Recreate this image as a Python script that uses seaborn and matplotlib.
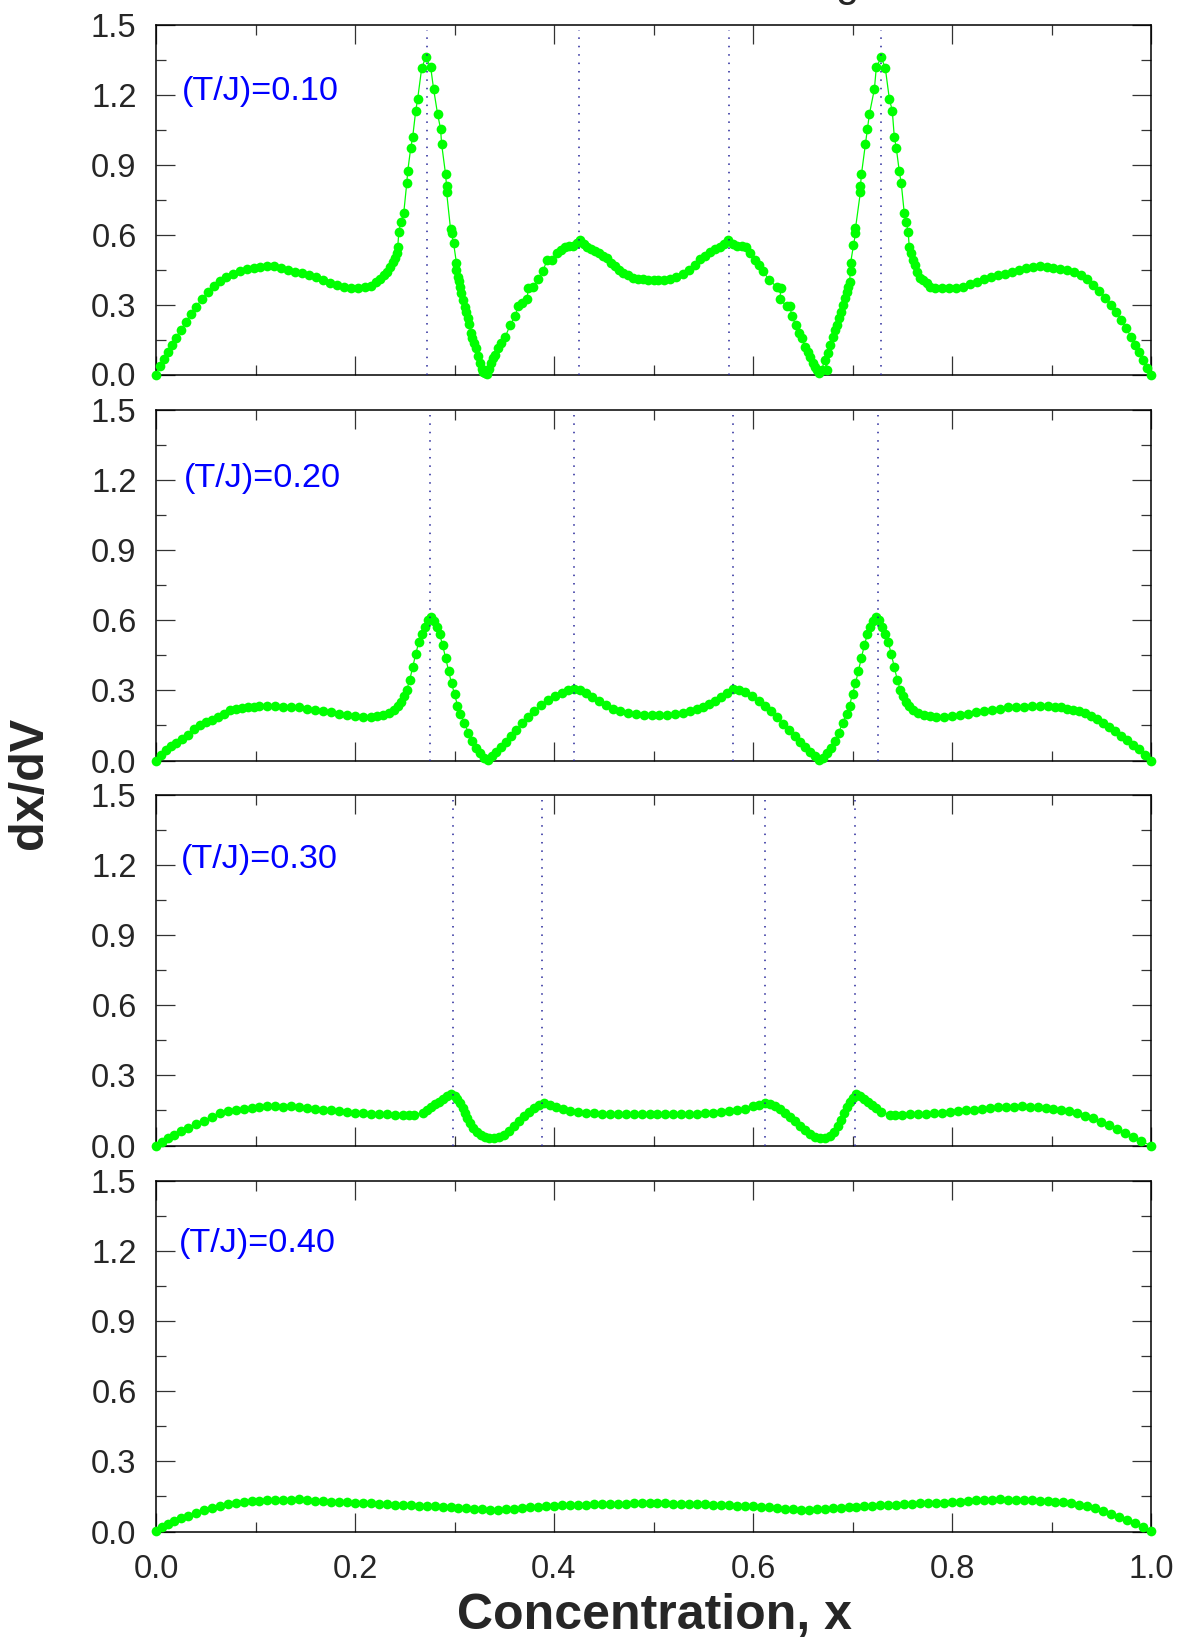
import matplotlib
matplotlib.use("Agg")
import matplotlib.pyplot as plt
from matplotlib.ticker import MultipleLocator, FormatStrFormatter
import seaborn as sns
import pandas as pd

# ---------------- data ----------------
panel_labels = ["(T/J)=0.10", "(T/J)=0.20", "(T/J)=0.30", "(T/J)=0.40"]

x1 = [0.000, 0.004, 0.008, 0.012, 0.016, 0.020, 0.025, 0.030, 0.035, 0.040, 0.046, 0.052, 0.058, 0.064,
      0.070, 0.077, 0.084, 0.091, 0.098, 0.105, 0.112, 0.119, 0.126, 0.133, 0.140, 0.147, 0.154, 0.161,
      0.168, 0.175, 0.182, 0.189, 0.196, 0.203, 0.210, 0.216, 0.221, 0.225, 0.229, 0.232, 0.235, 0.238,
      0.240, 0.242, 0.243, 0.244, 0.246, 0.249, 0.252, 0.253, 0.256, 0.258, 0.261, 0.263, 0.267, 0.271,
      0.276, 0.279, 0.283, 0.286, 0.287, 0.291, 0.292, 0.292, 0.296, 0.297, 0.299, 0.302, 0.302, 0.304,
      0.305, 0.306, 0.307, 0.309, 0.311, 0.312, 0.314, 0.315, 0.317, 0.318, 0.320, 0.322, 0.324, 0.326,
      0.328, 0.329, 0.331, 0.333, 0.335, 0.337, 0.339, 0.341, 0.344, 0.347, 0.351, 0.356, 0.361, 0.364,
      0.368, 0.373, 0.374, 0.379, 0.384, 0.389, 0.393, 0.398, 0.403, 0.407, 0.411, 0.415, 0.419, 0.423,
      0.426, 0.430, 0.433, 0.437, 0.441, 0.445, 0.449, 0.453, 0.457, 0.461, 0.465, 0.469, 0.474, 0.479,
      0.484, 0.489, 0.494, 0.500, 0.505, 0.511, 0.517, 0.523, 0.530, 0.536, 0.542, 0.547, 0.552, 0.557,
      0.562, 0.567, 0.571, 0.575, 0.580, 0.584, 0.589, 0.593, 0.597, 0.602, 0.606, 0.610, 0.616, 0.624,
      0.628, 0.627, 0.634, 0.637, 0.639, 0.643, 0.646, 0.649, 0.652, 0.655, 0.657, 0.660, 0.662, 0.664,
      0.666, 0.669, 0.672, 0.674, 0.675, 0.677, 0.680, 0.682, 0.684, 0.686, 0.688, 0.690, 0.692, 0.694,
      0.695, 0.697, 0.698, 0.698, 0.701, 0.703, 0.703, 0.708, 0.708, 0.709, 0.713, 0.715, 0.717, 0.722,
      0.724, 0.729, 0.733, 0.737, 0.740, 0.742, 0.744, 0.747, 0.749, 0.752, 0.754, 0.756, 0.757, 0.759,
      0.761, 0.763, 0.765, 0.768, 0.771, 0.775, 0.778, 0.783, 0.790, 0.797, 0.804, 0.811, 0.818, 0.825,
      0.832, 0.839, 0.846, 0.853, 0.860, 0.867, 0.874, 0.881, 0.888, 0.895, 0.902, 0.909, 0.916, 0.923,
      0.930, 0.936, 0.942, 0.948, 0.954, 0.960, 0.965, 0.970, 0.975, 0.980, 0.984, 0.988, 0.992, 0.996,
      1.000]
y1 = [0.000, 0.035, 0.068, 0.098, 0.128, 0.158, 0.192, 0.225, 0.258, 0.290, 0.322, 0.352, 0.378, 0.400,
      0.418, 0.433, 0.445, 0.452, 0.458, 0.463, 0.465, 0.464, 0.458, 0.450, 0.441, 0.436, 0.428, 0.420,
      0.405, 0.393, 0.382, 0.374, 0.372, 0.373, 0.374, 0.380, 0.395, 0.410, 0.425, 0.440, 0.460, 0.482,
      0.500, 0.522, 0.548, 0.611, 0.653, 0.694, 0.820, 0.873, 0.972, 1.020, 1.131, 1.184, 1.314, 1.361,
      1.321, 1.225, 1.118, 1.054, 0.991, 0.860, 0.810, 0.785, 0.625, 0.606, 0.566, 0.477, 0.448, 0.420,
      0.403, 0.375, 0.348, 0.320, 0.291, 0.268, 0.241, 0.215, 0.177, 0.155, 0.135, 0.112, 0.080, 0.048,
      0.025, 0.012, 0.005, 0.002, 0.025, 0.048, 0.070, 0.085, 0.112, 0.135, 0.162, 0.212, 0.251, 0.294,
      0.305, 0.322, 0.370, 0.375, 0.408, 0.446, 0.491, 0.491, 0.520, 0.535, 0.548, 0.553, 0.553, 0.565,
      0.577, 0.560, 0.548, 0.540, 0.530, 0.522, 0.508, 0.499, 0.480, 0.465, 0.450, 0.437, 0.425, 0.416,
      0.410, 0.408, 0.406, 0.405, 0.405, 0.407, 0.412, 0.420, 0.432, 0.448, 0.470, 0.495, 0.510, 0.527,
      0.538, 0.548, 0.562, 0.577, 0.560, 0.553, 0.551, 0.548, 0.520, 0.491, 0.470, 0.446, 0.405, 0.377,
      0.370, 0.322, 0.294, 0.294, 0.251, 0.212, 0.177, 0.155, 0.120, 0.095, 0.077, 0.050, 0.032, 0.019,
      0.005, 0.019, 0.062, 0.019, 0.091, 0.127, 0.162, 0.191, 0.212, 0.241, 0.270, 0.298, 0.327, 0.356,
      0.377, 0.398, 0.446, 0.477, 0.556, 0.606, 0.627, 0.785, 0.810, 0.860, 0.991, 1.054, 1.118, 1.225,
      1.321, 1.361, 1.314, 1.184, 1.131, 1.020, 0.972, 0.873, 0.820, 0.694, 0.653, 0.611, 0.548, 0.520,
      0.491, 0.470, 0.441, 0.413, 0.405, 0.391, 0.377, 0.370, 0.372, 0.373, 0.373, 0.376, 0.388, 0.397,
      0.410, 0.418, 0.426, 0.432, 0.442, 0.450, 0.458, 0.463, 0.465, 0.463, 0.458, 0.453, 0.447, 0.438,
      0.425, 0.410, 0.385, 0.360, 0.330, 0.300, 0.268, 0.235, 0.200, 0.160, 0.125, 0.095, 0.062, 0.030,
      0.000]

x2 = [0.000, 0.005, 0.010, 0.015, 0.020, 0.026, 0.032, 0.038, 0.044, 0.050, 0.056, 0.062, 0.068, 0.074,
      0.080, 0.086, 0.092, 0.098, 0.104, 0.112, 0.120, 0.128, 0.136, 0.144, 0.152, 0.160, 0.168, 0.176,
      0.184, 0.192, 0.200, 0.208, 0.216, 0.222, 0.228, 0.234, 0.239, 0.243, 0.246, 0.249, 0.252, 0.255,
      0.258, 0.261, 0.264, 0.267, 0.270, 0.273, 0.276, 0.279, 0.282, 0.285, 0.288, 0.291, 0.294, 0.297,
      0.300, 0.303, 0.306, 0.310, 0.314, 0.318, 0.322, 0.326, 0.330, 0.334, 0.338, 0.342, 0.347, 0.352,
      0.357, 0.362, 0.368, 0.374, 0.380, 0.387, 0.394, 0.401, 0.408, 0.414, 0.420, 0.426, 0.432, 0.438,
      0.445, 0.452, 0.459, 0.466, 0.474, 0.482, 0.490, 0.498, 0.506, 0.514, 0.522, 0.530, 0.537, 0.544,
      0.550, 0.556, 0.562, 0.568, 0.574, 0.580, 0.586, 0.592, 0.599, 0.606, 0.612, 0.618, 0.624, 0.630,
      0.636, 0.642, 0.647, 0.652, 0.657, 0.662, 0.666, 0.670, 0.674, 0.678, 0.682, 0.686, 0.690, 0.694,
      0.697, 0.700, 0.703, 0.706, 0.709, 0.712, 0.715, 0.718, 0.721, 0.724, 0.727, 0.730, 0.733, 0.736,
      0.739, 0.742, 0.745, 0.748, 0.751, 0.754, 0.757, 0.761, 0.766, 0.772, 0.778, 0.784, 0.792, 0.800,
      0.808, 0.816, 0.824, 0.832, 0.840, 0.848, 0.856, 0.864, 0.872, 0.880, 0.888, 0.896, 0.904, 0.910,
      0.916, 0.922, 0.928, 0.934, 0.940, 0.946, 0.952, 0.958, 0.964, 0.970, 0.976, 0.982, 0.988, 0.994,
      1.000]
y2 = [0.000, 0.025, 0.045, 0.060, 0.073, 0.090, 0.108, 0.135, 0.150, 0.163, 0.175, 0.188, 0.200, 0.215,
      0.222, 0.225, 0.227, 0.230, 0.232, 0.233, 0.233, 0.231, 0.229, 0.228, 0.222, 0.217, 0.212, 0.206,
      0.200, 0.195, 0.190, 0.188, 0.186, 0.189, 0.195, 0.205, 0.216, 0.233, 0.252, 0.278, 0.302, 0.345,
      0.400, 0.455, 0.505, 0.540, 0.570, 0.600, 0.612, 0.596, 0.572, 0.540, 0.495, 0.440, 0.385, 0.330,
      0.285, 0.235, 0.200, 0.160, 0.118, 0.082, 0.052, 0.030, 0.012, 0.002, 0.020, 0.035, 0.058, 0.080,
      0.103, 0.130, 0.160, 0.188, 0.212, 0.238, 0.258, 0.275, 0.290, 0.300, 0.308, 0.302, 0.290, 0.272,
      0.254, 0.238, 0.222, 0.210, 0.203, 0.198, 0.196, 0.195, 0.195, 0.196, 0.198, 0.202, 0.210, 0.220,
      0.230, 0.242, 0.255, 0.272, 0.290, 0.308, 0.302, 0.292, 0.275, 0.255, 0.235, 0.210, 0.185, 0.158,
      0.130, 0.103, 0.080, 0.058, 0.038, 0.020, 0.002, 0.012, 0.030, 0.052, 0.082, 0.118, 0.160, 0.200,
      0.235, 0.285, 0.330, 0.385, 0.440, 0.495, 0.540, 0.572, 0.596, 0.612, 0.600, 0.570, 0.540, 0.505,
      0.455, 0.400, 0.345, 0.302, 0.278, 0.252, 0.233, 0.216, 0.205, 0.195, 0.189, 0.186, 0.188, 0.190,
      0.195, 0.200, 0.206, 0.212, 0.217, 0.222, 0.228, 0.229, 0.231, 0.233, 0.233, 0.232, 0.230, 0.228,
      0.222, 0.218, 0.212, 0.203, 0.190, 0.177, 0.160, 0.143, 0.125, 0.106, 0.088, 0.068, 0.048, 0.025,
      0.000]

x3 = [0.000, 0.006, 0.012, 0.018, 0.025, 0.032, 0.040, 0.048, 0.056, 0.064, 0.072, 0.080, 0.088, 0.096,
      0.104, 0.112, 0.120, 0.128, 0.136, 0.144, 0.152, 0.160, 0.168, 0.176, 0.184, 0.192, 0.200, 0.208,
      0.216, 0.224, 0.232, 0.240, 0.248, 0.254, 0.259, 0.268, 0.272, 0.276, 0.280, 0.284, 0.288, 0.292,
      0.296, 0.300, 0.303, 0.306, 0.309, 0.311, 0.313, 0.316, 0.319, 0.323, 0.327, 0.331, 0.335, 0.340,
      0.345, 0.350, 0.355, 0.360, 0.365, 0.370, 0.375, 0.380, 0.385, 0.390, 0.396, 0.402, 0.409, 0.416,
      0.424, 0.432, 0.440, 0.448, 0.456, 0.464, 0.472, 0.480, 0.488, 0.496, 0.504, 0.512, 0.520, 0.528,
      0.536, 0.544, 0.552, 0.560, 0.568, 0.576, 0.584, 0.592, 0.600, 0.606, 0.612, 0.617, 0.622, 0.627,
      0.632, 0.637, 0.642, 0.647, 0.652, 0.657, 0.662, 0.667, 0.672, 0.677, 0.681, 0.685, 0.688, 0.691,
      0.694, 0.697, 0.700, 0.704, 0.708, 0.712, 0.716, 0.720, 0.724, 0.729, 0.738, 0.743, 0.750, 0.758,
      0.766, 0.774, 0.782, 0.790, 0.798, 0.806, 0.814, 0.822, 0.830, 0.838, 0.846, 0.854, 0.862, 0.870,
      0.878, 0.886, 0.894, 0.902, 0.910, 0.918, 0.926, 0.934, 0.942, 0.950, 0.958, 0.966, 0.974, 0.982,
      0.990, 1.000]
y3 = [0.000, 0.017, 0.033, 0.047, 0.062, 0.077, 0.092, 0.106, 0.124, 0.140, 0.149, 0.154, 0.158, 0.161,
      0.165, 0.168, 0.167, 0.165, 0.167, 0.163, 0.161, 0.158, 0.153, 0.150, 0.146, 0.143, 0.140, 0.138,
      0.136, 0.135, 0.134, 0.132, 0.131, 0.131, 0.131, 0.141, 0.152, 0.165, 0.178, 0.188, 0.198, 0.210,
      0.220, 0.212, 0.200, 0.182, 0.160, 0.140, 0.118, 0.095, 0.075, 0.058, 0.045, 0.036, 0.030, 0.030,
      0.036, 0.047, 0.062, 0.082, 0.105, 0.128, 0.145, 0.160, 0.172, 0.182, 0.175, 0.166, 0.156, 0.148,
      0.142, 0.139, 0.137, 0.136, 0.135, 0.135, 0.135, 0.135, 0.135, 0.135, 0.135, 0.135, 0.135, 0.135,
      0.136, 0.136, 0.137, 0.139, 0.142, 0.146, 0.151, 0.158, 0.167, 0.175, 0.182, 0.178, 0.170, 0.157,
      0.140, 0.122, 0.104, 0.085, 0.065, 0.048, 0.036, 0.030, 0.032, 0.042, 0.058, 0.082, 0.108, 0.140,
      0.165, 0.185, 0.205, 0.220, 0.210, 0.198, 0.186, 0.175, 0.160, 0.145, 0.131, 0.131, 0.132, 0.133,
      0.134, 0.136, 0.138, 0.141, 0.143, 0.146, 0.150, 0.153, 0.158, 0.161, 0.164, 0.166, 0.166, 0.168,
      0.166, 0.165, 0.162, 0.158, 0.152, 0.146, 0.137, 0.128, 0.116, 0.102, 0.086, 0.069, 0.052, 0.035,
      0.018, 0.000]

x4 = [0.000, 0.006, 0.012, 0.018, 0.025, 0.032, 0.040, 0.048, 0.056, 0.064, 0.072, 0.080, 0.088, 0.096,
      0.104, 0.112, 0.120, 0.128, 0.136, 0.144, 0.152, 0.160, 0.168, 0.176, 0.184, 0.192, 0.200, 0.208,
      0.216, 0.224, 0.232, 0.240, 0.248, 0.256, 0.264, 0.272, 0.280, 0.288, 0.296, 0.304, 0.312, 0.320,
      0.328, 0.336, 0.344, 0.352, 0.360, 0.368, 0.376, 0.384, 0.392, 0.400, 0.408, 0.416, 0.424, 0.432,
      0.440, 0.448, 0.456, 0.464, 0.472, 0.480, 0.488, 0.496, 0.504, 0.512, 0.520, 0.528, 0.536, 0.544,
      0.552, 0.560, 0.568, 0.576, 0.584, 0.592, 0.600, 0.608, 0.616, 0.624, 0.632, 0.640, 0.648, 0.656,
      0.664, 0.672, 0.680, 0.688, 0.696, 0.704, 0.712, 0.720, 0.728, 0.736, 0.744, 0.752, 0.760, 0.768,
      0.776, 0.784, 0.792, 0.800, 0.808, 0.816, 0.824, 0.832, 0.840, 0.848, 0.856, 0.864, 0.872, 0.880,
      0.888, 0.896, 0.904, 0.912, 0.920, 0.928, 0.936, 0.944, 0.952, 0.960, 0.968, 0.976, 0.984, 0.992,
      1.000]
y4 = [0.003, 0.018, 0.032, 0.044, 0.056, 0.068, 0.080, 0.092, 0.102, 0.110, 0.117, 0.122, 0.126, 0.129,
      0.131, 0.133, 0.134, 0.134, 0.136, 0.137, 0.134, 0.131, 0.130, 0.128, 0.126, 0.125, 0.123, 0.122,
      0.120, 0.119, 0.117, 0.115, 0.114, 0.112, 0.111, 0.109, 0.107, 0.105, 0.103, 0.101, 0.100, 0.098,
      0.096, 0.094, 0.094, 0.096, 0.098, 0.101, 0.104, 0.106, 0.108, 0.110, 0.112, 0.113, 0.114, 0.115,
      0.116, 0.117, 0.118, 0.119, 0.119, 0.120, 0.120, 0.120, 0.120, 0.120, 0.119, 0.119, 0.118, 0.117,
      0.116, 0.115, 0.114, 0.113, 0.111, 0.109, 0.107, 0.105, 0.103, 0.100, 0.098, 0.096, 0.094, 0.094,
      0.096, 0.098, 0.100, 0.102, 0.104, 0.106, 0.108, 0.110, 0.112, 0.113, 0.115, 0.117, 0.118, 0.120,
      0.121, 0.123, 0.124, 0.126, 0.128, 0.130, 0.133, 0.134, 0.135, 0.137, 0.136, 0.135, 0.134, 0.133,
      0.132, 0.130, 0.128, 0.125, 0.121, 0.115, 0.108, 0.099, 0.088, 0.076, 0.064, 0.051, 0.037, 0.021,
      0.003]

xs = [x1, x2, x3, x4]
ys = [y1, y2, y3, y4]

# vertical dotted reference lines per panel
vlines = [[0.2727, 0.4255, 0.5755, 0.7283],
          [0.2755, 0.4205, 0.5803, 0.7253],
          [0.2986, 0.3880, 0.6125, 0.7027],
          []]

x_ticks = [0.0, 0.2, 0.4, 0.6, 0.8, 1.0]
y_ticks = [0.0, 0.3, 0.6, 0.9, 1.2, 1.5]
label_y = [1.178, 1.170, 1.187, 1.196]
label_x = [0.026, 0.028, 0.025, 0.023]

# ---------------- style ----------------
sns.set_style("ticks")
plt.rcParams['font.family'] = ['Liberation Sans', 'DejaVu Sans']

W, H = 1179, 1641
fig = plt.figure(figsize=(W / 100, H / 100), dpi=100)

left = 156 / W
width = 995 / W
panel_tb = [(25, 374.5), (410, 760.5), (795, 1145.5), (1181, 1531.5)]

green = "#00ff00"
for i in range(4):
    top, bot = panel_tb[i]
    ax = fig.add_axes([left, 1 - bot / H, width, (bot - top) / H])
    df = pd.DataFrame({"x": xs[i], "y": ys[i]})
    sns.lineplot(data=df, x="x", y="y", ax=ax, sort=False, estimator=None,
                 color=green, linewidth=0.9, marker="o", markersize=7.0,
                 markeredgewidth=0, markerfacecolor=green, clip_on=False, zorder=3)
    for xv in vlines[i]:
        ax.axvline(xv, ymin=0, ymax=0.985, color="#26269a", linestyle=(0, (1, 4.5)),
                   linewidth=1.1, zorder=4)
    ax.set_xlim(0, 1)
    ax.set_ylim(0, 1.5)
    ax.set_xticks(x_ticks)
    ax.set_yticks(y_ticks)
    ax.xaxis.set_minor_locator(MultipleLocator(0.1))
    ax.yaxis.set_minor_locator(MultipleLocator(0.15))
    ax.yaxis.set_major_formatter(FormatStrFormatter("%.1f"))
    ax.xaxis.set_major_formatter(FormatStrFormatter("%.1f"))
    ax.tick_params(which="both", direction="in", top=True, right=True, color="#333333")
    ax.tick_params(which="major", length=13.7, width=0.9, labelsize=23.5)
    ax.tick_params(which="minor", length=7.2, width=0.9)
    ax.tick_params(axis="y", which="major", pad=14)
    ax.tick_params(axis="x", which="major", pad=16)
    if i < 3:
        ax.tick_params(axis="x", labelbottom=False)
    for sp in ax.spines.values():
        sp.set_linewidth(1.1)
        sp.set_color("black")
    ax.set_xlabel("")
    ax.set_ylabel("")
    ax.text(label_x[i], label_y[i], panel_labels[i], transform=ax.get_yaxis_transform(),
            color="#0000ff", fontsize=24.7, ha="left", va="baseline")

fig.text(654 / W, 1 - 1629 / H, "Concentration, x", fontsize=36, fontweight="bold",
         ha="center", va="baseline")
fig.text(30 / W, 1 - 783 / H, "dx/dV", fontsize=35, fontweight="bold",
         rotation=90, ha="center", va="center")
# partially visible title glyph at the very top edge (cut off as in the reference)
fig.text(847 / W, 1 + 4 / H, "g", fontsize=30, ha="center", va="baseline")

fig.savefig("out.png", dpi=100)
